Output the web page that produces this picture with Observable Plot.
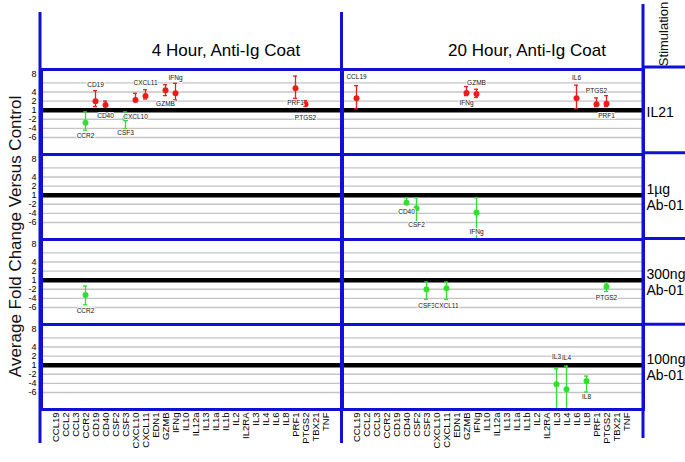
<!DOCTYPE html>
<html><head><meta charset="utf-8">
<script src="https://cdn.jsdelivr.net/npm/d3@7"></script>
<script src="https://cdn.jsdelivr.net/npm/@observablehq/plot@0.6"></script>
<style>body{margin:0;background:#fff} svg{display:block}</style>
</head><body><div id="chart"></div><script>
// ---- categories ----
const times = ["4 Hour, Anti-Ig Coat", "20 Hour, Anti-Ig Coat"];
const stims = ["IL21", "1µg\nAb-01", "300ng\nAb-01", "100ng\nAb-01"];
const genes = ["CCL19","CCL2","CCL3","CCR2","CD19","CD40","CSF2","CSF3","CXCL10","CXCL11","EDN1","GZMB","IFNg","IL10","IL12a","IL13","IL1a","IL1b","IL2","IL2RA","IL3","IL4","IL6","IL8","PRF1","PTGS2","TBX21","TNF"];
const yTicks = [8, 4, 2, 0, -2, -4, -6];
const yTickLabels = ["8", "4", "2", "1", "-2", "-4", "-6"];
const gridValues = [6, 4, 2, -2, -4, -6];

// ---- IL21, 4 hour ----
const il21h4Genes = ["CCR2","CD19","CD40","CSF3","CXCL10","CXCL11","GZMB","IFNg","PRF1","PTGS2"];
const il21h4Mean  = [-2.75, 1.96, 1.15, -1.9, 2.25, 3.1, 4.4, 3.7, 4.8, 1.3];
const il21h4Low   = [-4.4, 0.8, 0.8, -4.1, 1.96, 2.46, 3.2, 2.25, 2.6, 1.0];
const il21h4High  = [-0.4, 4.3, 2.0, -0.4, 3.7, 4.5, 5.6, 5.9, 7.5, 2.1];
const il21h4LabelText = ["CCR2","CD19","CD40","CSF3","CXCL10","CXCL11","GZMB","IFNg","PRF1","PTGS2"];
const il21h4LabelCol  = ["CCR2","CD19","CD40","CSF3","CXCL10","CXCL11","GZMB","IFNg","PRF1","PTGS2"];
const il21h4LabelY    = [-5.7, 5.6, -1.2, -5.1, -1.5, 5.9, 1.3, 7.2, 1.6, -1.7];

// ---- IL21, 20 hour ----
const il21h20Genes = ["CCL19","GZMB","IFNg","IL6","PRF1","PTGS2"];
const il21h20Mean  = [2.6, 3.8, 3.55, 2.6, 1.3, 1.4];
const il21h20Low   = [0.3, 3.2, 2.8, 0.3, 0.8, 0.8];
const il21h20High  = [5.4, 5.2, 4.6, 5.5, 2.7, 3.2];
const il21h20LabelText = ["CCL19","IFNg","GZMB","IL6","PTGS2","PRF1"];
const il21h20LabelCol  = ["CCL19","GZMB","IFNg","IL6","PRF1","PTGS2"];
const il21h20LabelY    = [7.3, 1.7, 6.1, 7.2, 4.3, -1.3];

// ---- 1µg Ab-01, 20 hour ----
const ug1h20Genes = ["CD40","CSF2","IFNg"];
const ug1h20Mean  = [-1.67, -2.9, -3.8];
const ug1h20Low   = [-1.9, -5.9, -9.9];
const ug1h20High  = [-0.6, -0.6, -0.6];
const ug1h20LabelText = ["CD40","CSF2","IFNg"];
const ug1h20LabelCol  = ["CD40","CSF2","IFNg"];
const ug1h20LabelY    = [-3.6, -6.6, -8.0];

// ---- 300ng Ab-01, 4 hour ----
const ng300h4Genes = ["CCR2"];
const ng300h4Mean  = [-3.26];
const ng300h4Low   = [-5.4];
const ng300h4High  = [-1.3];
const ng300h4LabelText = ["CCR2"];
const ng300h4LabelCol  = ["CCR2"];
const ng300h4LabelY    = [-6.7];

// ---- 300ng Ab-01, 20 hour ----
const ng300h20Genes = ["CSF3","CXCL11","PTGS2"];
const ng300h20Mean  = [-2.0, -1.8, -1.45];
const ng300h20Low   = [-4.2, -4.2, -2.5];
const ng300h20High  = [-0.4, -0.4, -0.6];
const ng300h20LabelText = ["CSF3","CXCL11","PTGS2"];
const ng300h20LabelCol  = ["CSF3","CXCL11","PTGS2"];
const ng300h20LabelY    = [-5.6, -5.65, -3.85];

// ---- 100ng Ab-01, 20 hour ----
const ng100h20Genes = ["IL3","IL4","IL8"];
const ng100h20Mean  = [-4.2, -5.3, -3.5];
const ng100h20Low   = [-9.9, -9.9, -5.9];
const ng100h20High  = [-0.8, -0.2, -2.4];
const ng100h20LabelText = ["IL3","IL4","IL8"];
const ng100h20LabelCol  = ["IL3","IL4","IL8"];
const ng100h20LabelY    = [1.8, 1.6, -6.9];

// ---- build tables ----
const points = [], labels = [];
function addPanel(time, stim, g, m, lo, hi, lt, lc, ly) {
  g.forEach((gene, i) => points.push({time, stim, gene, mean: m[i], lo: lo[i], hi: hi[i]}));
  lt.forEach((t, i) => labels.push({time, stim, text: t, gene: lc[i], y: ly[i]}));
}
addPanel(times[0], stims[0], il21h4Genes, il21h4Mean, il21h4Low, il21h4High, il21h4LabelText, il21h4LabelCol, il21h4LabelY);
addPanel(times[1], stims[0], il21h20Genes, il21h20Mean, il21h20Low, il21h20High, il21h20LabelText, il21h20LabelCol, il21h20LabelY);
addPanel(times[1], stims[1], ug1h20Genes, ug1h20Mean, ug1h20Low, ug1h20High, ug1h20LabelText, ug1h20LabelCol, ug1h20LabelY);
addPanel(times[0], stims[2], ng300h4Genes, ng300h4Mean, ng300h4Low, ng300h4High, ng300h4LabelText, ng300h4LabelCol, ng300h4LabelY);
addPanel(times[1], stims[2], ng300h20Genes, ng300h20Mean, ng300h20Low, ng300h20High, ng300h20LabelText, ng300h20LabelCol, ng300h20LabelY);
addPanel(times[1], stims[3], ng100h20Genes, ng100h20Mean, ng100h20Low, ng100h20High, ng100h20LabelText, ng100h20LabelCol, ng100h20LabelY);

// every panel gets its grid and its baseline (fold change 1)
const panels = d3.cross(times, stims);
const gridRows = d3.cross(times, stims, gridValues);

const RED = "#ec1c1c", GREEN = "#30e030", BLUE = "#1010d8";
const col = d => d.mean > 0 ? RED : GREEN;
const W = 685, H = 462, mL = 40, mR = 42, mT = 67, mB = 52;

const svg = Plot.plot({
  width: W, height: H,
  marginLeft: mL, marginRight: mR, marginTop: mT, marginBottom: mB,
  style: {fontFamily: "'Liberation Sans', Arial, sans-serif", background: "#fff"},
  fx: {domain: times, padding: 0},
  fy: {domain: stims, padding: 0},
  x: {type: "band", domain: genes, padding: 0, insetLeft: 1, insetRight: 5},
  y: {domain: [-9.75, 8.95]},
  marks: [
    Plot.ruleY(gridRows, {fx: d => d[0], fy: d => d[1], y: d => d[2], stroke: "#c4c4c4", strokeWidth: 1.4}),
    Plot.ruleY(panels, {fx: d => d[0], fy: d => d[1], y: () => 0, stroke: "#000", strokeWidth: 4.5}),
    Plot.ruleX(points, {fx: "time", fy: "stim", x: "gene", y1: "lo", y2: "hi", stroke: col, strokeWidth: 1.3, clip: true}),
    Plot.tickY(points, {fx: "time", fy: "stim", x: "gene", y: "hi", stroke: col, strokeWidth: 1.3, insetLeft: 3, insetRight: 3, clip: true}),
    Plot.tickY(points, {fx: "time", fy: "stim", x: "gene", y: "lo", stroke: col, strokeWidth: 1.3, insetLeft: 3, insetRight: 3, clip: true}),
    Plot.dot(points, {fx: "time", fy: "stim", x: "gene", y: "mean", fill: col, r: 3}),
    Plot.text(labels, {fx: "time", fy: "stim", x: "gene", y: "y", text: "text", fontSize: 6.5, fill: "#111",
      stroke: "#fff", strokeWidth: 2, style: "letter-spacing:0.1px"}),
    Plot.frame({stroke: BLUE, strokeWidth: 3}),
    Plot.axisY(yTicks, {facetAnchor: "left", tickFormat: d => yTickLabels[yTicks.indexOf(d)], tickSize: 0, tickPadding: 5, fontSize: 9, label: null}),
    Plot.axisX({facetAnchor: "bottom", tickRotate: -90, tickSize: 0, tickPadding: 3, fontSize: 9.5, label: null}),
    Plot.axisFx({anchor: "top", tickSize: 0, tickPadding: 14, fontSize: 17, dx: 34, label: null}),
    Plot.axisFy({anchor: "right", tickSize: 0, tickPadding: 3, fontSize: 14, lineHeight: 1.1, label: null})
  ]
});

// table grid lines extending beyond the panels, and the outer titles
const s = d3.select(svg);
const R = W - mR, B = H - mB, Mx = mL + (R - mL) / 2, ph = (B - mT) / 4;
const g = s.append("g").attr("stroke", BLUE).attr("stroke-width", 3);
[[mL, 12, 443], [Mx, 12, 443], [R, 4, 438]].forEach(([x, y1, y2]) =>
  g.append("line").attr("x1", x).attr("x2", x).attr("y1", y1).attr("y2", y2));
d3.range(4).forEach(k =>
  g.append("line").attr("x1", R).attr("x2", W).attr("y1", mT + k * ph).attr("y2", mT + k * ph));
s.append("text").attr("transform", `translate(15,${(mT + B) / 2 - 2}) rotate(-90)`)
  .attr("text-anchor", "middle").attr("dy", "0.35em").attr("font-size", 17).attr("fill", "#111")
  .text("Average Fold Change Versus Control");
s.append("text").attr("transform", `translate(663,34) rotate(-90)`)
  .attr("text-anchor", "middle").attr("dy", "0.35em").attr("font-size", 13).attr("fill", "#111")
  .text("Stimulation");

document.getElementById("chart").appendChild(svg);
</script></body></html>
